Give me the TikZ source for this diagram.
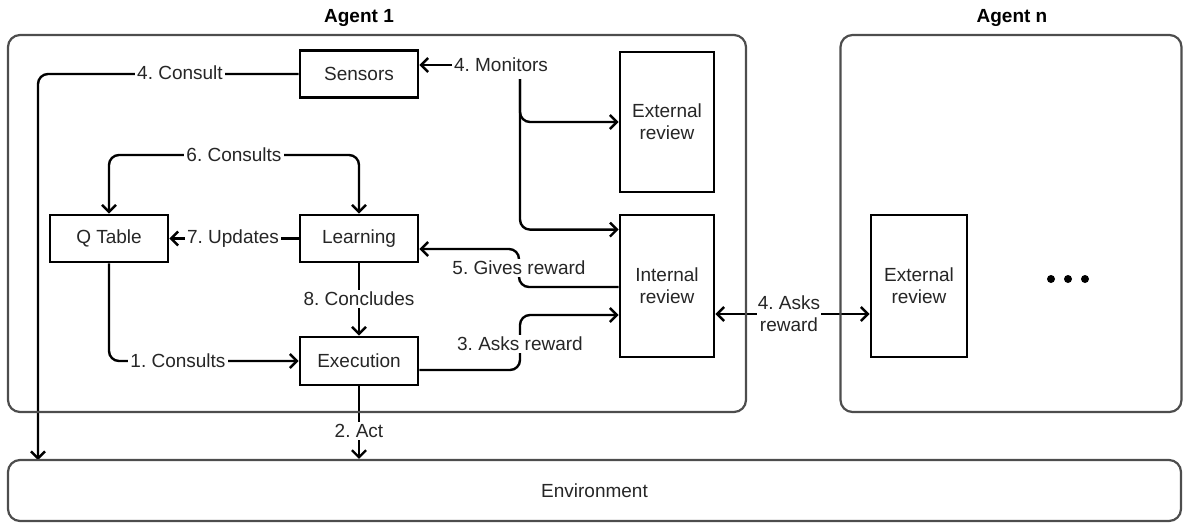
\documentclass[tikz,border=0pt]{standalone}
\usepackage{fontspec}
\setmainfont{Liberation Sans}
\usetikzlibrary{arrows.meta}
\pgfdeclarelayer{bg}
\pgfsetlayers{bg,main}
\definecolor{txt}{HTML}{262626}
\definecolor{cont}{HTML}{4D4D4D}
\frenchspacing
\begin{document}
\begin{tikzpicture}[x=1pt,y=-1pt,
  every node/.style={font=\fontsize{19}{22}\selectfont, text=txt},
  container/.style={draw=cont, line width=2.2pt, rounded corners=12pt, inner sep=0pt},
  box/.style={draw=black, line width=2.8pt, fill=white, inner sep=0pt, align=center},
  lbl/.style={fill=white, inner sep=2pt, align=center},
  title/.style={font=\fontsize{19}{22}\selectfont\bfseries, text=black},
  conn/.style={draw=black, line width=2.4pt, rounded corners=10pt},
  tip/.tip={Straight Barb[length=7pt,width=14pt]},
  arr/.style={conn, -tip},
  biarr/.style={conn, tip-tip}]
\useasboundingbox (0,0) rectangle (1183,523);

% containers
\node[container, minimum width=738pt, minimum height=377pt] (agent1) at (377,223.5) {};
\node[container, minimum width=341pt, minimum height=377pt] (agentn) at (1011,223.5) {};
\node[container, minimum width=1173pt, minimum height=61pt] (env) at (594.5,490.5) {Environment};
\node[title] (t1) at (359,18) {Agent 1};
\node[title] (tn) at (1012,18) {Agent n};

% boxes
\node[box, minimum width=118pt, minimum height=47pt] (sens) at (359,74) {Sensors};
\node[box, minimum width=94pt, minimum height=140pt] (ext1) at (667,122) {External\\review};
\node[box, minimum width=118pt, minimum height=47pt] (qt) at (109,238.5) {Q Table};
\node[box, minimum width=118pt, minimum height=47pt] (learn) at (359,238.5) {Learning};
\node[box, minimum width=94pt, minimum height=142pt] (intr) at (667,286) {Internal\\review};
\node[box, minimum width=118pt, minimum height=48pt] (exec) at (359,361) {Execution};
\node[box, minimum width=96pt, minimum height=142pt] (extn) at (919,286) {External\\review};

% dots
\foreach \i/\x in {a/1051,b/1068,c/1085}
  \fill[black] (\x,279) circle (4pt) coordinate (dot\i);

% labels
\node[lbl] (l4c) at (180,73) {4. Consult};
\node[lbl] (l4m) at (501,65) {4. Monitors};
\node[lbl] (l6) at (234,155) {6. Consults};
\node[lbl] (l7) at (233,238.5) {7. Updates};
\node[lbl] (l8) at (359,299) {8. Concludes};
\node[lbl] (l1) at (178,361) {1. Consults};
\node[lbl] (l2) at (359,431) {2. Act};
\node[lbl] (l5) at (519,268) {5. Gives reward};
\node[lbl] (l3) at (520,344) {3. Asks reward};
\node[lbl, inner sep=1pt] (l4a) at (789,314) {4. Asks\\reward};

\coordinate (envc) at (38,460);
\coordinate (mon) at (520,79);

\begin{pgfonlayer}{bg}
\draw[arr] (sens.west) -| (envc);
\draw[arr] (l4m.center) -- (sens.east |- l4m.center);
\draw[arr] (mon) |- (ext1.west);
\draw[arr] (mon) |- ([yshift=-16pt]intr.north west);
\draw[biarr] (qt.north) |- (l6.center) -| (learn.north);
\draw[arr] (learn.west) -- (qt.east);
\draw[arr] (learn.south) -- (exec.north);
\draw[arr] (qt.south) |- (exec.west);
\draw[arr] (exec.south) -- (exec.south |- env.north);
\draw[arr] ([yshift=-9pt]exec.east) -| (l3.center) |- ([yshift=-29pt]intr.west);
\draw[arr] ([yshift=-1pt]intr.west) -| (l5.center) |- ([yshift=-10.5pt]learn.east);
\draw[biarr] ([yshift=-28pt]intr.east) -- ([yshift=-28pt]extn.west);
\end{pgfonlayer}
\end{tikzpicture}
\end{document}
